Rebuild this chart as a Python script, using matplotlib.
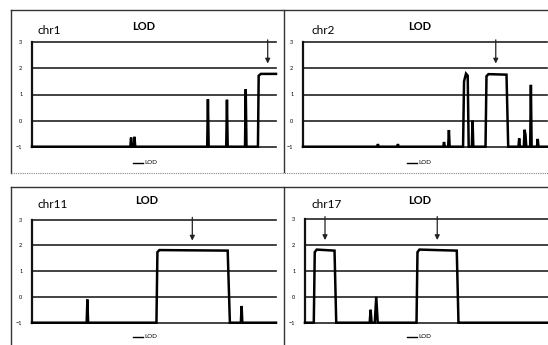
import matplotlib
matplotlib.use("Agg")
import matplotlib.pyplot as plt
from matplotlib.lines import Line2D

plt.rcParams['font.family'] = ['Lato', 'DejaVu Sans']

W, H = 548, 345

# LOD profiles, x = relative marker position (0-100 across each plot)
chr1_x = [0, 40.3, 40.6, 40.9, 41.7, 42.0, 42.3, 71.8, 72.1, 72.4, 79.6, 79.9, 80.2,
          87.3, 87.6, 87.9, 92.6, 92.9, 93.8, 100]
chr1_y = [-1, -1, -0.65, -1, -1, -0.62, -1, -1, 0.82, -1, -1, 0.8, -1,
          -1, 1.2, -1, -1, 1.72, 1.79, 1.79]

chr2_x = [0, 30.4, 30.7, 31.0, 38.6, 38.9, 39.2, 57.5, 57.8, 58.1, 59.5, 59.8, 60.1,
          65.6, 66.0, 66.8, 67.5, 67.9, 69.2, 69.5, 69.8, 74.8, 75.2, 76.0, 83.4, 84.1,
          88.3, 88.6, 88.9, 90.5, 90.8, 91.2, 91.5, 93.1, 93.4, 93.7, 95.9, 96.2, 96.5, 100]
chr2_y = [-1, -1, -0.9, -1, -1, -0.9, -1, -1, -0.82, -1, -1, -0.36, -1,
          -1, 1.5, 1.8, 1.72, -1, -1, 0.0, -1, -1, 1.7, 1.78, 1.76, -1,
          -1, -0.68, -1, -1, -0.35, -0.55, -1, -1, 1.37, -1, -1, -0.7, -1, -1]

chr11_x = [0, 22.4, 22.7, 23.0, 51.0, 51.4, 52.2, 80.2, 81.1, 85.6, 85.9, 86.2, 100]
chr11_y = [-1, -1, -0.1, -1, -1, 1.74, 1.82, 1.8, -1, -1, -0.35, -1, -1]

chr17_x = [0, 3.6, 4.0, 4.8, 12.1, 12.8, 26.5, 26.9, 27.3, 28.6, 29.2, 29.8,
           45.7, 46.1, 46.9, 62.2, 62.9, 100]
chr17_y = [-1, -1, 1.72, 1.82, 1.78, -1, -1, -0.5, -1, -1, 0.0, -1,
           -1, 1.72, 1.82, 1.78, -1, -1]

panels = ["chr1", "chr2", "chr11", "chr17"]
series_x = [chr1_x, chr2_x, chr11_x, chr17_x]
series_y = [chr1_y, chr2_y, chr11_y, chr17_y]
arrow_x = [[96.6], [79.0], [65.7], [8.2, 54.2]]
y_ticks = [-1, 0, 1, 2, 3]

# pixel boxes of the plot areas: left, right, top(y=3), bottom(y=-1)
plot_px = [(32, 276, 42.3, 146.7), (303, 547, 42.3, 146.7),
           (32, 276, 219.7, 322.7), (305, 549, 219.0, 322.7)]
title_px = [(144, 27), (420, 27), (147, 201), (420, 201)]
label_px = [(37, 30), (311, 30), (37, 205), (311, 205)]
legend_px = [(133, 163), (407, 163), (133, 337), (407, 337)]


def fx(px):
    return px / W


def fy(py):
    return 1 - py / H


fig = plt.figure(figsize=(W / 100, H / 100), dpi=100)

# chart frames
frame_col = "#333333"
def fline(xs, ys, **kw):
    fig.add_artist(Line2D([fx(v) for v in xs], [fy(v) for v in ys], color=kw.pop("color", frame_col),
                          lw=kw.pop("lw", 1.0), **kw))

fline([11, 560], [10, 10])
fline([11, 11], [10, 173])
fline([284, 284], [10, 172])
fline([11, 560], [173.5, 173.5], color="#888888", lw=0.8, ls=(0, (1, 1)))
fline([11, 560], [187, 187])
fline([11, 11], [187, 350])
fline([284, 284], [187, 350])

for i, name in enumerate(panels):
    l, r, t, b = plot_px[i]
    ax = fig.add_axes([fx(l), fy(b), (r - l) / W, (b - t) / H])
    ax.set_xlim(0, 100)
    ax.set_ylim(-1, 3)
    ax.patch.set_alpha(0)
    for s in ["top", "right", "bottom"]:
        ax.spines[s].set_visible(False)
    ax.spines["left"].set_linewidth(1.6)
    ax.spines["left"].set_color("#111111")
    for v in y_ticks:
        ax.axhline(v, color="#222222", lw=1.2, clip_on=False, zorder=1)
    ax.set_xticks([])
    ax.set_yticks(y_ticks)
    ax.tick_params(axis="y", length=0, pad=7, labelsize=4)
    ax.plot(series_x[i], series_y[i], color="black", lw=1.8, clip_on=False, zorder=3,
            solid_joinstyle="miter")
    for a in arrow_x[i]:
        ax.annotate("", xy=(a, 2.08), xytext=(a, 3.2),
                    arrowprops=dict(arrowstyle="-|>", color="#222222", lw=0.9, mutation_scale=7),
                    annotation_clip=False)

    tx, ty = title_px[i]
    fig.text(fx(tx), fy(ty), "LOD", ha="center", va="center", fontsize=8, fontweight="bold")
    cx, cy = label_px[i]
    fig.text(fx(cx), fy(cy), name, ha="left", va="center", fontsize=8.5)
    lx, ly = legend_px[i]
    fline([lx, lx + 10], [ly, ly], color="black", lw=1.0)
    fig.text(fx(lx + 11), fy(ly), "LOD", ha="left", va="center", fontsize=4.5)

fig.savefig("out.png", dpi=100)
